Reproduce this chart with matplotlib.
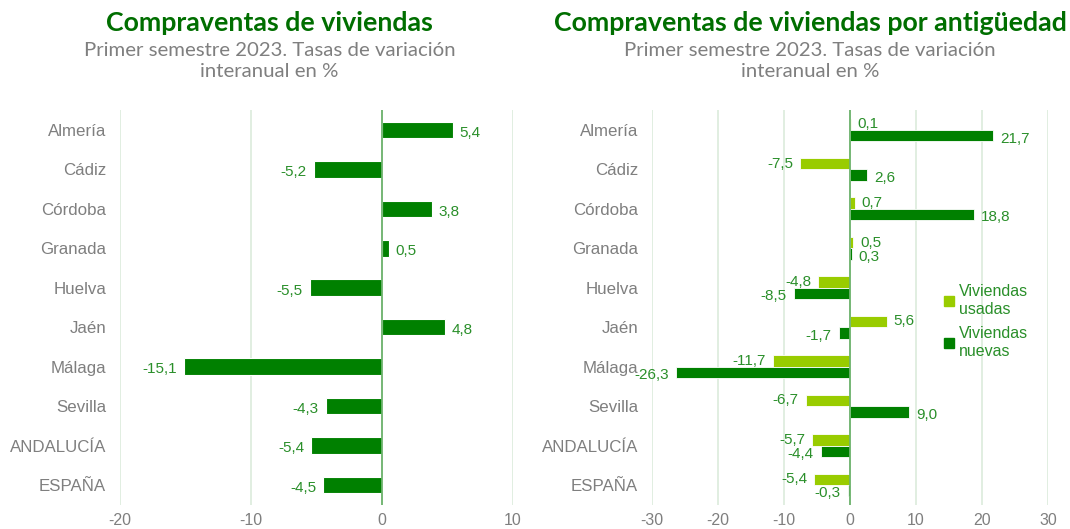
import matplotlib.pyplot as plt
from matplotlib.lines import Line2D

plt.rcParams["axes.unicode_minus"] = False

# ========================================================
# Data
# ========================================================
categorias = ["Almería", "Cádiz", "Córdoba", "Granada", "Huelva", "Jaén",
              "Málaga", "Sevilla", "ANDALUCÍA", "ESPAÑA"]
total = [5.4, -5.2, 3.8, 0.5, -5.5, 4.8, -15.1, -4.3, -5.4, -4.5]
usadas = [0.1, -7.5, 0.7, 0.5, -4.8, 5.6, -11.7, -6.7, -5.7, -5.4]
nuevas = [21.7, 2.6, 18.8, 0.3, -8.5, -1.7, -26.3, 9.0, -4.4, -0.3]

DARK = "#008000"
LIGHT = "#99cc00"
LABEL = "#2a8f2a"
GRAY = "#7f7f7f"
GRID = "#dcebdc"
ZERO = "#6db36d"
LABEL_FONT = "Liberation Sans"
TITLE_FONT = "Lato"


def fmt(v):
    return f"{v:.1f}".replace(".", ",")


def label_bar(ax, v, y, dy=0):
    off = 5 if v >= 0 else -5
    ax.annotate(fmt(v), (v, y), xytext=(off, dy), textcoords="offset points",
                ha="left" if v >= 0 else "right", va="center",
                color=LABEL, fontsize=11, family=LABEL_FONT)


def style_axis(ax, xlim, ticks):
    ax.set_xlim(*xlim)
    ax.set_xticks(ticks)
    ax.set_ylim(len(categorias) - 0.5, -0.5)
    ax.set_yticks(range(len(categorias)))
    ax.set_yticklabels(categorias)
    for s in ax.spines.values():
        s.set_visible(False)
    ax.grid(axis="x", color=GRID, linewidth=1.2)
    ax.set_axisbelow(True)
    ax.axvline(0, color=ZERO, linewidth=1.3, zorder=3)
    ax.tick_params(length=0, labelsize=11.5, colors=GRAY)
    ax.tick_params(axis="y", pad=10, labelsize=12.2)
    ax.tick_params(axis="x", pad=6)
    for t in ax.get_xticklabels() + ax.get_yticklabels():
        t.set_family(LABEL_FONT)


fig = plt.figure(figsize=(10.7, 5.29), dpi=100)

# ========================================================
# Left panel
# ========================================================
ax1 = fig.add_axes([0.1121, 0.046, 0.3673, 0.7455])
ys = list(range(len(categorias)))
ax1.barh(ys, total, height=0.42, color=DARK, edgecolor="white", linewidth=0.8, zorder=2)
for y, v in zip(ys, total):
    label_bar(ax1, v, y, dy=-2)
style_axis(ax1, (-20, 10), [-20, -10, 0, 10])

# ========================================================
# Right panel
# ========================================================
ax2 = fig.add_axes([0.6093, 0.046, 0.370, 0.7455])
h = 0.29
y_u = [y - h / 2 for y in ys]
y_n = [y + h / 2 for y in ys]
ax2.barh(y_u, usadas, height=h, color=LIGHT, edgecolor="white", linewidth=0.6, zorder=2)
ax2.barh(y_n, nuevas, height=h, color=DARK, edgecolor="white", linewidth=0.6, zorder=2)
for y, v in zip(y_u, usadas):
    label_bar(ax2, v, y)
for y, v in zip(y_n, nuevas):
    label_bar(ax2, v, y, dy=-2)
style_axis(ax2, (-30, 30), [-30, -20, -10, 0, 10, 20, 30])

handles = [Line2D([], [], marker="s", linestyle="", color=LIGHT, markersize=7),
           Line2D([], [], marker="s", linestyle="", color=DARK, markersize=7)]
leg = ax2.legend(handles, ["Viviendas\nusadas", "Viviendas\nnuevas"],
                 loc="upper left", bbox_to_anchor=(0.695, 0.595), frameon=False,
                 prop={"family": LABEL_FONT, "size": 11.5}, handletextpad=0.1,
                 labelspacing=0.6, handlelength=1.0)
for t in leg.get_texts():
    t.set_color(LABEL)

# ========================================================
# Titles
# ========================================================
fig.text(0.252, 0.956, "Compraventas de viviendas", ha="center", va="center",
         fontsize=19.3, fontweight="bold", color="#006e00", family=TITLE_FONT)
fig.text(0.252, 0.885, "Primer semestre 2023. Tasas de variación\ninteranual en %",
         ha="center", va="center", fontsize=14.7, color=GRAY, family=TITLE_FONT,
         linespacing=1.3)
fig.text(0.757, 0.956, "Compraventas de viviendas por antigüedad", ha="center",
         va="center", fontsize=19.3, fontweight="bold", color="#006e00", family=TITLE_FONT)
fig.text(0.757, 0.885, "Primer semestre 2023. Tasas de variación\ninteranual en %",
         ha="center", va="center", fontsize=14.7, color=GRAY, family=TITLE_FONT,
         linespacing=1.3)

fig.savefig("out.png", dpi=100)
